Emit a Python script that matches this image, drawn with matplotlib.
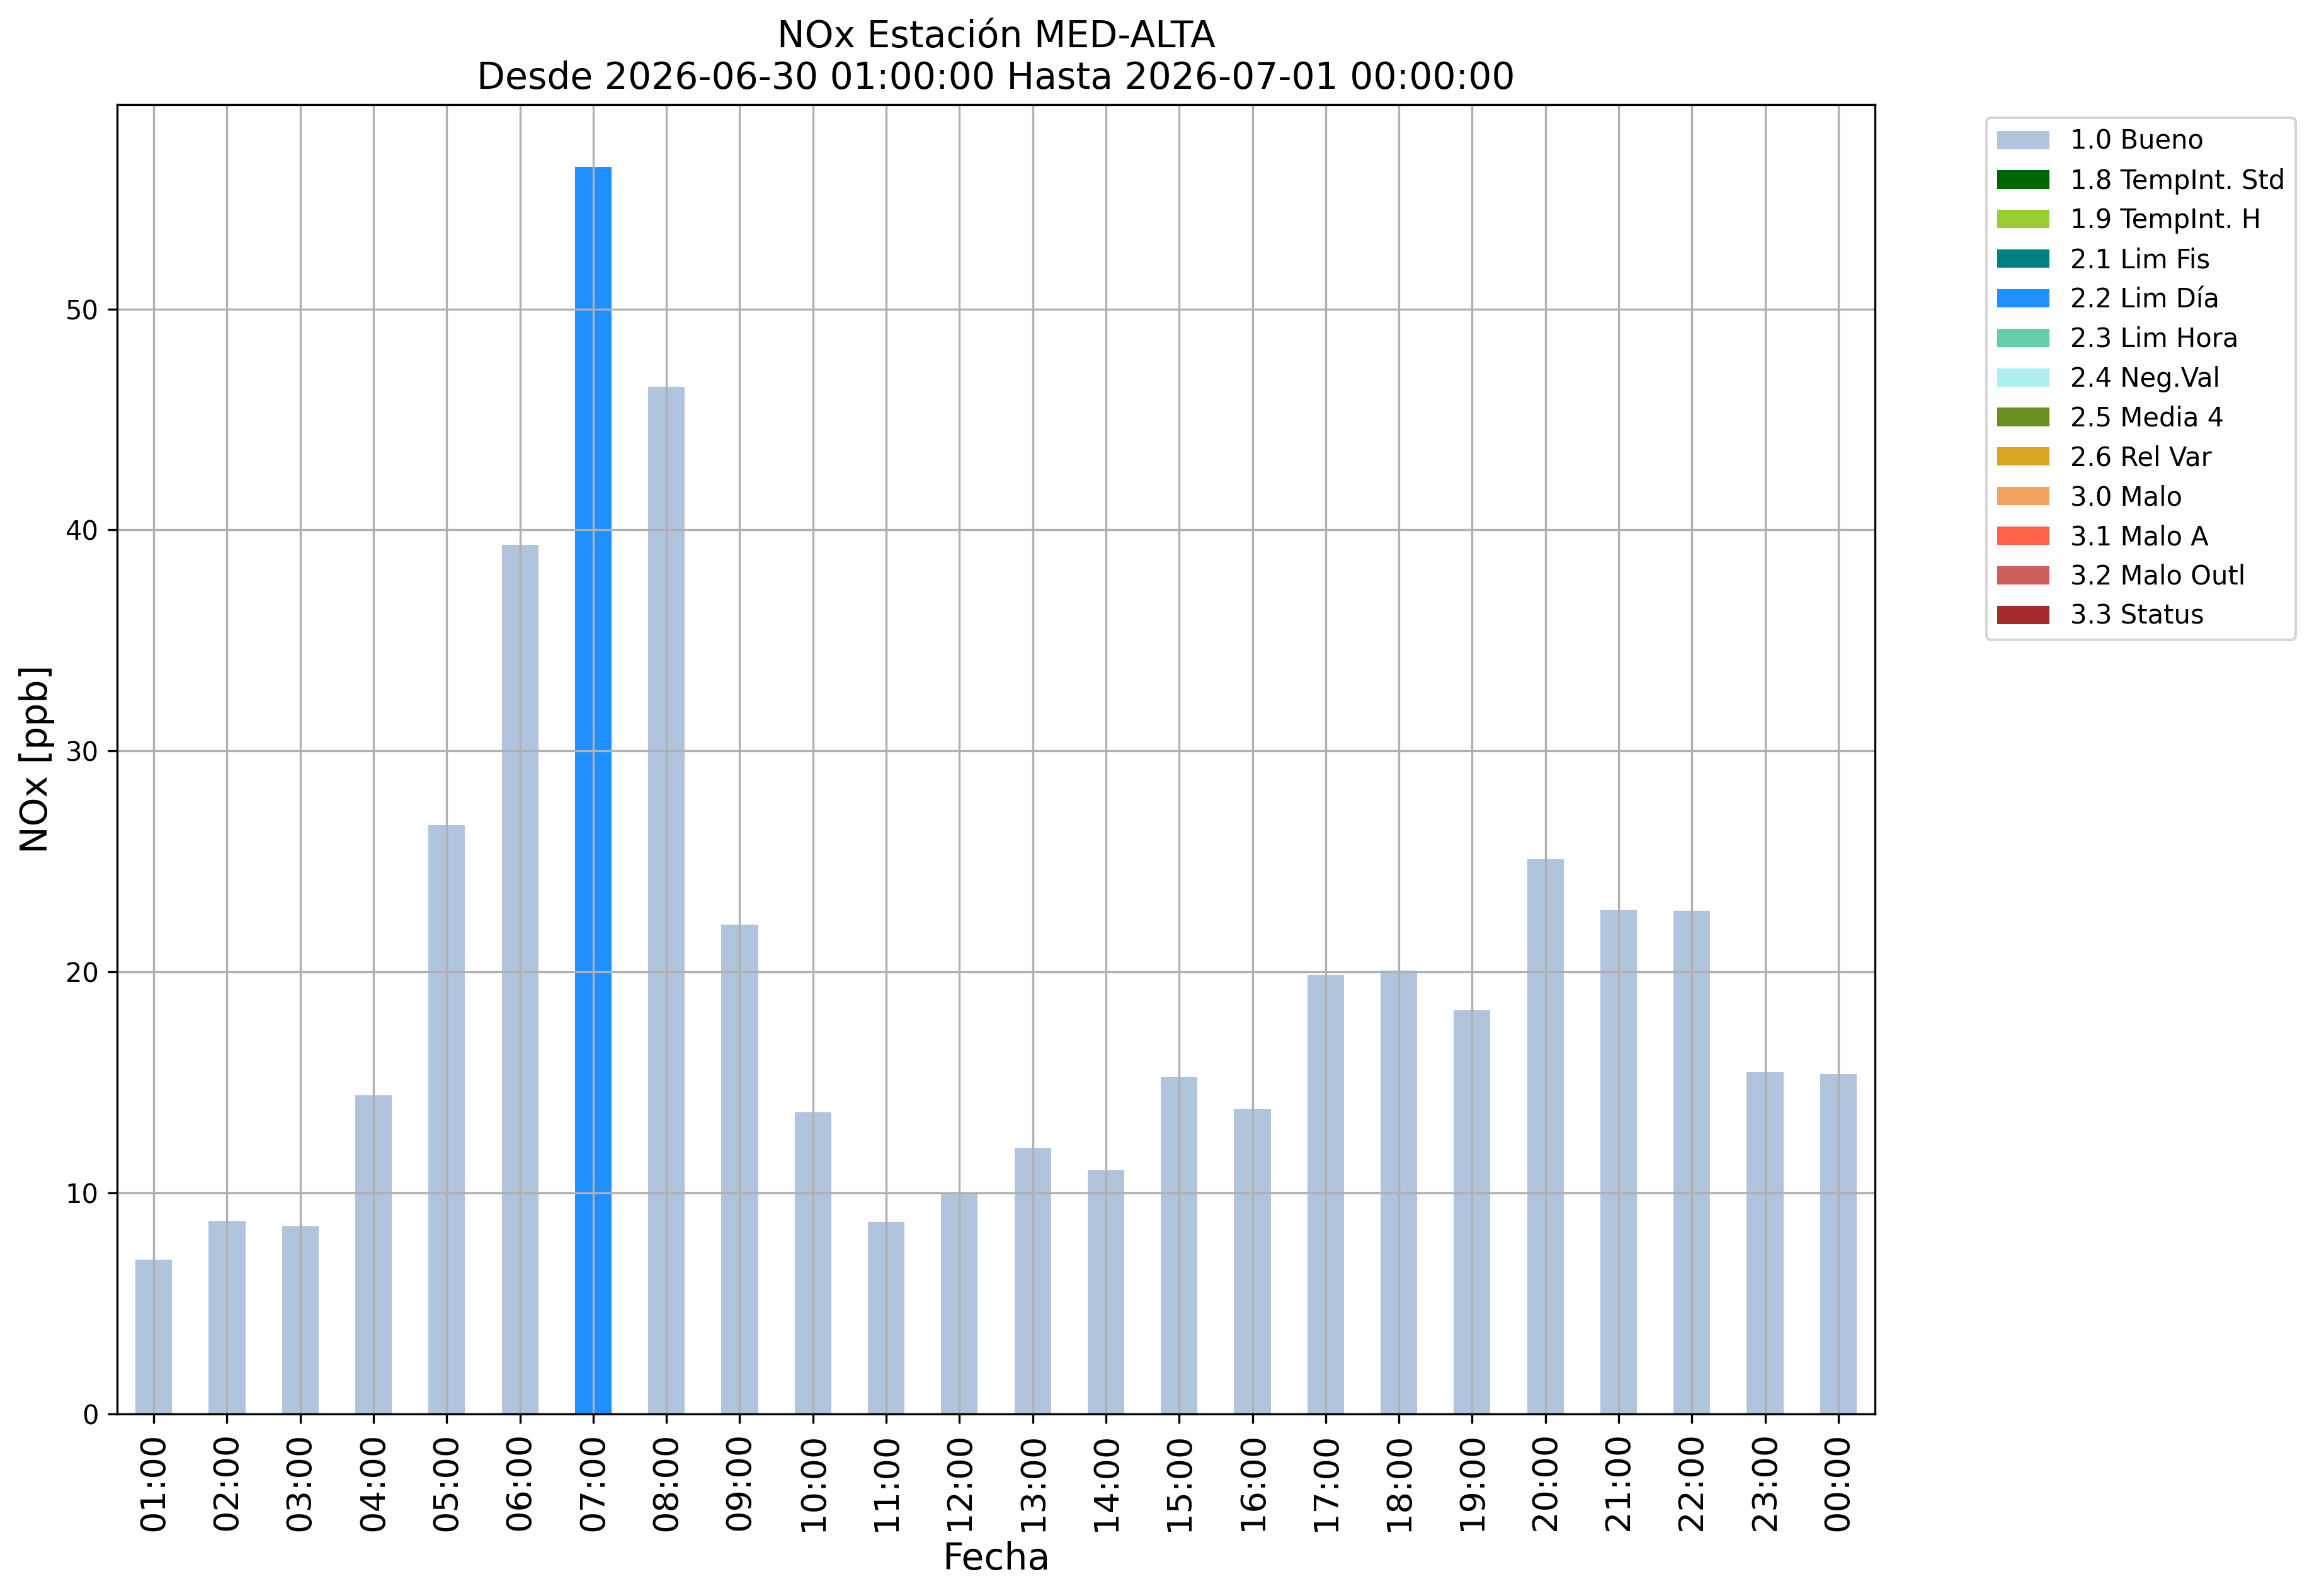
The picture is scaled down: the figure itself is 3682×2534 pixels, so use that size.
import matplotlib

matplotlib.use("Agg")
import matplotlib.pyplot as plt
import numpy as np

# hourly NOx values and the quality flag of each hour
hours = ["01:00", "02:00", "03:00", "04:00", "05:00", "06:00", "07:00", "08:00",
         "09:00", "10:00", "11:00", "12:00", "13:00", "14:00", "15:00", "16:00",
         "17:00", "18:00", "19:00", "20:00", "21:00", "22:00", "23:00", "00:00"]
nox = [6.97, 8.72, 8.48, 14.42, 26.65, 39.33, 56.43, 46.49,
       22.15, 13.64, 8.69, 10.0, 12.02, 11.03, 15.25, 13.79,
       19.86, 20.06, 18.27, 25.11, 22.80, 22.77, 15.48, 15.39]
flags = ["1.0 Bueno"] * 6 + ["2.2 Lim Día"] + ["1.0 Bueno"] * 17

categories = ["1.0 Bueno", "1.8 TempInt. Std", "1.9 TempInt. H", "2.1 Lim Fis",
              "2.2 Lim Día", "2.3 Lim Hora", "2.4 Neg.Val", "2.5 Media 4",
              "2.6 Rel Var", "3.0 Malo", "3.1 Malo A", "3.2 Malo Outl", "3.3 Status"]
colors = ["lightsteelblue", "darkgreen", "yellowgreen", "teal", "dodgerblue",
          "mediumaquamarine", "paleturquoise", "olivedrab", "goldenrod",
          "sandybrown", "tomato", "indianred", "brown"]

W, H, DPI = 3682, 2534, 300
fig = plt.figure(figsize=(W / DPI, H / DPI), dpi=DPI)
ax = fig.add_axes([186 / W, 1 - 2245 / H, (2977 - 186) / W, (2245 - 166) / H])

# stacked bars, one layer per quality flag (pandas-style)
x = np.arange(len(hours))
bottom = np.zeros(len(hours))
for cat, col in zip(categories, colors):
    vals = np.array([v if f == cat else 0.0 for v, f in zip(nox, flags)])
    ax.bar(x, vals, width=0.5, bottom=bottom, color=col, label=cat)
    bottom += vals

ax.set_xlim(-0.5, len(hours) - 0.5)
ax.set_ylim(0, max(nox) * 1.05)
ax.set_xticks(x)
ax.set_xticklabels(hours, rotation=90, fontsize=13)
ax.tick_params(axis="y", labelsize=10)
ax.grid(True)

ax.set_xlabel("Fecha", fontsize=14)
ax.set_ylabel("NOx [ppb]", fontsize=14)
ax.set_title("NOx Estación MED-ALTA\nDesde 2026-06-30 01:00:00 Hasta 2026-07-01 00:00:00",
             fontsize=14)

ax.legend(loc="upper left", bbox_to_anchor=(3154 / W, 1 - 187 / H),
          bbox_transform=fig.transFigure, borderaxespad=0, fontsize=10)

fig.savefig("out.png", dpi=DPI)
plt.close(fig)
